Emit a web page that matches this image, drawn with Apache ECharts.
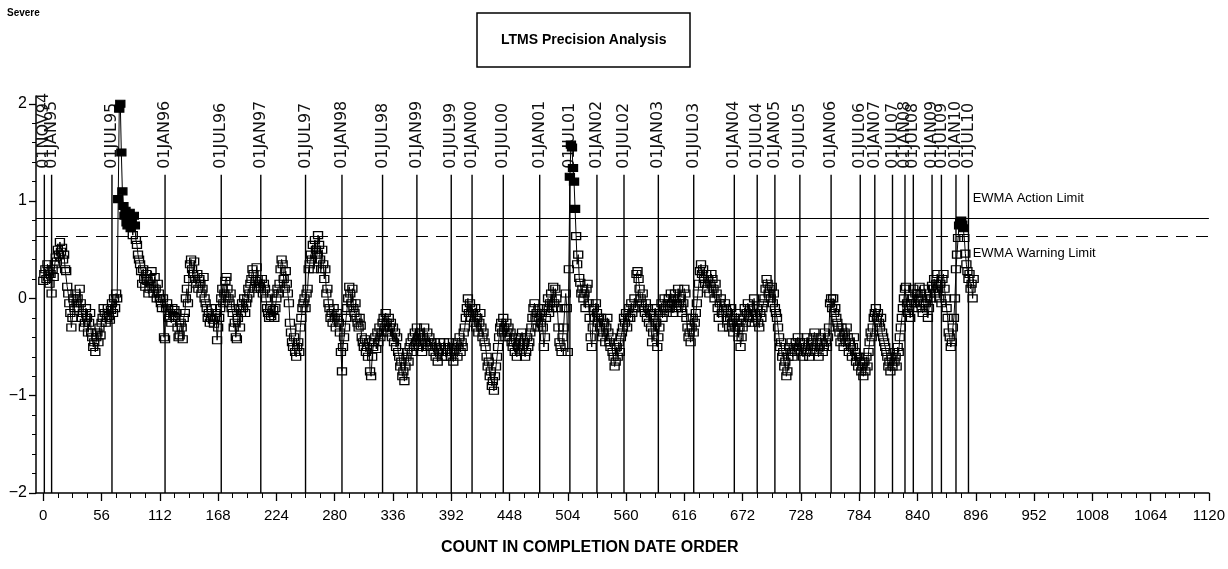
<!DOCTYPE html>
<html>
<head>
<meta charset="utf-8">
<script src="https://cdn.jsdelivr.net/npm/echarts@6/dist/echarts.min.js"></script>
<style>
html,body{margin:0;padding:0;background:#fff;}
#chart{width:1228px;height:569px;}
</style>
</head>
<body>
<div id="chart"></div>
<script>
// ---- data ----
const xTickValues = [0,56,112,168,224,280,336,392,448,504,560,616,672,728,784,840,896,952,1008,1064,1120];
const yTickValues = [-2,-1,0,1,2];

const refLabels = ['01NOV94','01JAN95','01JUL95','01JAN96','01JUL96','01JAN97','01JUL97','01JAN98','01JUL98',
  '01JAN99','01JUL99','01JAN00','01JUL00','01JAN01','01JUL01','01JAN02','01JUL02','01JAN03','01JUL03',
  '01JAN04','01JUL04','01JAN05','01JUL05','01JAN06','01JUL06','01JAN07','01JUL07','01JAN08','01JUL08',
  '01JAN09','01JUL09','01JAN10','01JUL10'];
const refCounts = [1,8,66,117,171,209,252,287,326,359,392,412,442,477,506,532,558,591,625,
  664,686,703,727,757,785,799,816,828,836,854,863,877,889];

const actionLimit = 0.82;
const warningLimit = 0.64;
const limitLabels = ['EWMA Action Limit','EWMA Warning Limit'];

// EWMA values in completion order (index = count)
const ewmaValues = [
  0.18,0.25,0.3,0.2,0.35,0.28,0.15,0.25,0.05,0.3,
  0.22,0.35,0.42,0.38,0.5,0.45,0.58,0.48,0.52,0.4,0.45,0.3,
  0.28,0.12,0.05,-0.05,-0.15,-0.3,-0.2,0.0,-0.1,0.05,-0.05,
  0.0,-0.1,0.1,-0.05,-0.2,-0.15,-0.3,-0.25,-0.1,-0.2,-0.35,-0.25,-0.15,
  -0.35,-0.4,-0.5,-0.45,-0.55,-0.4,-0.35,-0.45,-0.3,-0.38,
  -0.25,-0.2,-0.1,-0.15,-0.25,-0.2,-0.1,-0.18,-0.22,-0.12,-0.05,-0.15,0.0,-0.1,0.05,0.0,
  1.02,1.95,2.0,1.5,1.1,
  0.95,0.85,0.9,0.78,0.75,0.82,0.88,0.72,0.8,0.65,0.85,0.75,
  0.6,0.55,0.45,0.4,0.35,0.28,0.15,0.3,0.2,0.12,0.25,0.18,0.05,
  0.1,0.2,0.28,0.15,0.05,0.22,0.1,0.0,0.15,0.05,
  0.0,-0.05,-0.1,0.0,-0.4,-0.42,-0.1,-0.05,
  -0.1,-0.2,-0.15,-0.25,-0.1,-0.18,-0.12,-0.2,-0.15,-0.3,-0.4,-0.38,-0.25,-0.3,-0.42,-0.2,
  -0.15,0.0,0.1,-0.05,0.2,0.35,0.4,0.3,0.25,0.38,0.2,0.15,
  0.25,0.1,0.2,0.15,0.05,0.1,0.22,0.0,-0.05,
  -0.1,-0.2,-0.15,-0.25,-0.2,-0.1,-0.22,-0.26,-0.2,-0.15,-0.43,-0.3,-0.2,
  -0.1,0.0,0.1,-0.05,0.05,0.18,0.22,0.1,0.0,-0.05,0.05,-0.1,
  -0.15,-0.3,-0.25,-0.4,-0.42,-0.2,-0.1,-0.3,-0.15,-0.05,-0.1,0.0,-0.15,
  -0.05,0.0,0.1,0.05,0.15,0.2,0.3,0.25,0.1,0.18,0.32,0.2,0.12,0.15,0.1,0.2,0.05,0.15,0.1,
  0.0,-0.1,-0.15,-0.2,-0.1,-0.18,0.05,-0.12,-0.2,-0.1,0.0,0.1,0.05,
  0.15,0.3,0.4,0.35,0.2,0.1,0.28,0.15,0.05,-0.05,
  -0.25,-0.35,-0.45,-0.5,-0.4,-0.55,-0.6,-0.5,-0.45,-0.55,-0.3,-0.2,-0.1,
  -0.05,0.0,-0.1,0.05,0.1,0.3,
  0.35,0.45,0.4,0.55,0.3,0.6,0.5,0.45,0.65,0.55,0.4,0.3,0.5,0.35,0.2,0.3,
  0.05,0.1,-0.05,-0.1,-0.2,-0.15,-0.25,-0.1,-0.2,-0.3,-0.15,-0.2,-0.25,
  -0.35,-0.55,-0.75,-0.5,-0.4,-0.3,
  -0.2,-0.1,0.0,0.12,0.05,-0.05,0.1,-0.1,-0.15,-0.05,-0.2,-0.25,-0.3,-0.2,-0.28,
  -0.4,-0.45,-0.5,-0.42,-0.55,-0.5,-0.6,-0.45,-0.75,-0.8,-0.6,-0.5,-0.45,-0.4,-0.52,-0.35,-0.45,-0.3,-0.4,-0.35,
  -0.25,-0.2,-0.3,-0.15,-0.25,-0.35,-0.2,-0.3,-0.25,-0.4,-0.3,-0.45,-0.35,-0.5,-0.4,-0.55,-0.6,
  -0.7,-0.65,-0.8,-0.75,-0.85,-0.7,-0.6,-0.55,-0.65,-0.5,-0.45,-0.55,-0.4,-0.5,
  -0.35,-0.45,-0.3,-0.4,-0.5,-0.35,-0.45,-0.55,-0.4,-0.3,-0.45,-0.5,-0.35,-0.45,-0.4,-0.5,-0.45,
  -0.5,-0.55,-0.45,-0.6,-0.5,-0.65,-0.55,-0.45,-0.5,-0.6,-0.55,-0.45,-0.5,-0.6,-0.55,-0.5,
  -0.45,-0.55,-0.6,-0.5,-0.65,-0.55,-0.5,-0.45,-0.6,-0.5,-0.4,-0.55,-0.45,-0.5,-0.35,-0.3,
  -0.2,-0.1,0.0,-0.15,-0.05,-0.2,-0.1,
  -0.15,-0.25,-0.1,-0.3,-0.2,-0.35,-0.25,-0.15,-0.3,-0.4,-0.35,-0.45,-0.5,
  -0.6,-0.7,-0.65,-0.8,-0.75,-0.9,-0.85,-0.95,-0.8,-0.7,-0.6,-0.5,
  -0.4,-0.3,-0.25,-0.35,-0.2,-0.3,-0.4,-0.25,-0.35,-0.3,-0.4,-0.35,-0.45,
  -0.5,-0.45,-0.55,-0.4,-0.6,-0.5,-0.45,-0.55,-0.4,-0.35,-0.5,-0.45,-0.6,-0.55,-0.4,-0.5,-0.45,-0.35,-0.3,
  -0.2,-0.1,-0.05,-0.2,-0.15,-0.3,-0.2,-0.1,-0.25,-0.15,-0.3,-0.5,-0.4,-0.2,-0.1,0.0,-0.15,-0.05,0.05,-0.1,0.12,-0.05,0.1,0.0,-0.1,-0.3,
  -0.45,-0.5,-0.55,-0.4,-0.3,-0.1,0.05,-0.1,-0.55,0.3,
  1.25,1.58,1.55,1.34,1.2,0.92,0.64,0.35,0.45,0.21,0.16,0.05,0.1,
  0.0,0.05,-0.1,0.1,0.15,-0.05,-0.2,-0.4,-0.5,-0.3,-0.1,-0.2,-0.05,-0.15,-0.25,-0.2,
  -0.3,-0.2,-0.4,-0.35,-0.25,-0.45,-0.3,-0.2,-0.35,-0.45,-0.5,-0.4,
  -0.55,-0.6,-0.7,-0.65,-0.5,-0.6,-0.45,-0.55,-0.4,-0.35,
  -0.3,-0.2,-0.25,-0.15,-0.3,-0.2,-0.1,-0.2,-0.05,-0.15,-0.1,0.0,-0.1,
  0.25,0.28,0.2,0.1,0.0,-0.05,0.05,-0.1,
  -0.15,-0.05,-0.2,-0.1,-0.25,-0.15,-0.3,-0.45,-0.35,-0.2,-0.1,-0.25,-0.5,-0.4,-0.3,-0.15,-0.05,-0.2,-0.1,0.0,-0.1,-0.15,
  -0.05,0.0,-0.1,0.05,-0.05,-0.15,0.0,0.05,-0.1,-0.05,0.1,-0.05,0.0,-0.1,-0.15,-0.05,0.1,0.05,
  -0.2,-0.3,-0.4,-0.35,-0.45,-0.3,-0.2,-0.35,-0.25,-0.15,-0.05,0.05,
  0.15,0.28,0.35,0.25,0.3,0.2,0.15,0.25,0.1,0.2,0.05,0.15,0.25,0.2,0.1,0.0,0.15,0.05,-0.1,-0.2,-0.05,0.0,-0.15,-0.3,-0.1,-0.05,
  -0.1,-0.2,-0.15,-0.3,-0.2,-0.1,-0.25,-0.35,-0.2,-0.3,-0.15,-0.25,-0.4,-0.3,-0.5,-0.4,
  -0.3,-0.2,-0.1,-0.25,-0.15,-0.05,-0.2,-0.1,-0.15,-0.25,-0.1,0.0,-0.15,-0.2,-0.1,-0.25,-0.3,-0.15,-0.2,-0.1,-0.05,0.0,
  0.1,0.2,0.15,0.05,0.1,0.0,0.12,-0.05,0.05,-0.1,-0.15,
  -0.2,-0.3,-0.4,-0.5,-0.45,-0.6,-0.55,-0.7,-0.65,-0.8,-0.75,-0.6,-0.5,-0.55,-0.45,-0.6,-0.5,-0.55,-0.45,-0.5,-0.4,-0.5,
  -0.45,-0.55,-0.5,-0.6,-0.45,-0.5,-0.55,-0.4,-0.5,-0.6,-0.55,-0.45,-0.5,-0.4,-0.35,-0.5,-0.55,-0.45,-0.6,-0.5,-0.4,-0.45,-0.55,-0.5,-0.35,-0.45,-0.5,-0.4,-0.3,
  -0.05,0.0,-0.1,0.0,-0.15,-0.1,-0.2,-0.25,-0.3,
  -0.35,-0.45,-0.3,-0.4,-0.5,-0.35,-0.45,-0.3,-0.4,-0.55,-0.45,-0.5,-0.6,-0.5,-0.4,-0.55,-0.65,-0.6,-0.7,-0.6,
  -0.65,-0.75,-0.7,-0.8,-0.65,-0.75,-0.6,-0.7,-0.55,-0.45,-0.35,-0.4,-0.3,-0.2,-0.15,
  -0.1,-0.2,-0.15,-0.25,-0.3,-0.2,-0.35,-0.4,-0.45,-0.5,
  -0.55,-0.6,-0.7,-0.65,-0.75,-0.6,-0.7,-0.55,-0.65,-0.6,-0.7,-0.5,-0.55,-0.4,-0.3,
  -0.2,-0.1,0.0,0.1,0.12,-0.05,-0.15,-0.1,-0.2,-0.05,
  0.0,0.1,-0.05,0.05,-0.1,0.05,0.0,0.12,0.05,-0.1,-0.15,-0.05,0.1,-0.05,0.0,-0.2,-0.1,0.05,0.0,0.13,
  0.1,0.2,0.05,0.15,0.25,0.1,0.0,0.15,-0.05,0.2,0.25,0.1,0.0,-0.1,
  -0.2,-0.35,-0.4,-0.5,-0.45,-0.3,-0.2,0.0,
  0.3,0.45,0.62,0.75,0.78,0.8,0.76,0.72,0.62,0.46,0.35,0.28,0.2,0.25,0.1,0.15,0.0,0.2
];

// ---- chart ----
const X_MIN = -7, X_MAX = 1120, Y_MIN = -2, Y_MAX = 2.08;
const LINE_TOP = 1.27;
const FILL_ABOVE = 0.66;
const sans = '"Liberation Sans", Arial, sans-serif';

function stepValues(a, b, s) { const r = []; for (let v = a; v <= b + 1e-9; v += s) r.push(+v.toFixed(4)); return r; }
const xMinorTicks = stepValues(0, 1120, 14);
const yMinorTicks = stepValues(-2, 2, 0.2);

const seriesData = ewmaValues.map((v, i) => {
  const item = { value: [i, v] };
  if (v > FILL_ABOVE) item.itemStyle = { color: '#000' };
  return item;
});

const chart = echarts.init(document.getElementById('chart'), null, { renderer: 'canvas' });
chart.setOption({
  animation: false,
  backgroundColor: '#fff',
  title: [
    { text: 'Severe', left: 7, top: 8, padding: 0,
      textStyle: { fontFamily: sans, fontSize: 10, fontWeight: 'bold', color: '#000' } },
    { text: 'LTMS Precision Analysis', left: 477, top: 13, padding: [20, 24],
      borderColor: '#000', borderWidth: 1.5,
      textStyle: { fontFamily: sans, fontSize: 14, fontWeight: 'bold', color: '#000' } },
    { text: 'COUNT IN COMPLETION DATE ORDER', left: 441, top: 540, padding: 0,
      textStyle: { fontFamily: sans, fontSize: 16, fontWeight: 'bold', color: '#000' } }
  ],
  grid: { left: 36, right: 18, top: 96, bottom: 76, containLabel: false },
  xAxis: [
    { type: 'value', min: X_MIN, max: X_MAX, splitLine: { show: false },
      axisLine: { show: true, onZero: false, lineStyle: { color: '#000', width: 1.5 } },
      axisTick: { show: true, customValues: xTickValues, length: 8, lineStyle: { color: '#000', width: 1.3 } },
      axisLabel: { show: true, customValues: xTickValues, margin: 15, color: '#000', fontFamily: sans, fontSize: 15,
        formatter: v => String(v) } },
    { type: 'value', min: X_MIN, max: X_MAX, position: 'bottom', splitLine: { show: false },
      axisLine: { show: false, onZero: false },
      axisTick: { show: true, customValues: xMinorTicks, length: 5, lineStyle: { color: '#000', width: 1 } },
      axisLabel: { show: false } }
  ],
  yAxis: [
    { type: 'value', min: Y_MIN, max: Y_MAX, splitLine: { show: false },
      axisLine: { show: true, onZero: false, lineStyle: { color: '#000', width: 1.5 } },
      axisTick: { show: true, customValues: yTickValues, length: 7, lineStyle: { color: '#000', width: 1.3 } },
      axisLabel: { show: true, customValues: yTickValues, margin: 9, color: '#000', fontFamily: sans, fontSize: 16,
        formatter: v => (v < 0 ? '\u2212' + Math.abs(v) : String(v)) } },
    { type: 'value', min: Y_MIN, max: Y_MAX, position: 'left', splitLine: { show: false },
      axisLine: { show: false, onZero: false },
      axisTick: { show: true, customValues: yMinorTicks, length: 4, lineStyle: { color: '#000', width: 1 } },
      axisLabel: { show: false } }
  ],
  series: [
    {
      name: 'date markers', type: 'custom', coordinateSystem: 'cartesian2d', xAxisIndex: 0, yAxisIndex: 0,
      silent: true, clip: false, z: 1,
      data: refCounts.map(c => [c, LINE_TOP]),
      encode: { x: 0, y: 1 },
      renderItem: (params, api) => {
        const x = api.value(0);
        const p0 = api.coord([x, Y_MIN]);
        const p1 = api.coord([x, api.value(1)]);
        return { type: 'group', children: [
          { type: 'line', shape: { x1: p0[0], y1: p0[1], x2: p1[0], y2: p1[1] },
            style: { stroke: '#000', lineWidth: 1.4 } },
          { type: 'text', x: p1[0], y: p1[1] - 6, rotation: Math.PI / 2,
            style: { text: refLabels[params.dataIndex], fill: '#111', fontFamily: '"DejaVu Sans", sans-serif',
              fontSize: 16, align: 'left', verticalAlign: 'middle' } }
        ] };
      }
    },
    {
      name: 'limit labels', type: 'custom', coordinateSystem: 'cartesian2d', xAxisIndex: 0, yAxisIndex: 0,
      silent: true, clip: false, z: 1,
      data: [[893, actionLimit], [893, warningLimit]],
      encode: { x: 0, y: 1 },
      renderItem: (params, api) => {
        const p = api.coord([api.value(0), api.value(1)]);
        const dy = params.dataIndex === 0 ? -20 : 17;
        return { type: 'text', x: p[0], y: p[1] + dy,
          style: { text: limitLabels[params.dataIndex], fill: '#000', fontFamily: sans, fontSize: 13,
            align: 'left', verticalAlign: 'middle' } };
      }
    },
    {
      name: 'EWMA', type: 'line', xAxisIndex: 0, yAxisIndex: 0, z: 3,
      data: seriesData,
      showAllSymbol: true, symbol: 'rect', symbolSize: [9, 7],
      lineStyle: { color: '#000', width: 1 },
      itemStyle: { color: 'rgba(0,0,0,0)', borderColor: '#000', borderWidth: 1.2 },
      emphasis: { disabled: true },
      markLine: {
        silent: true, symbol: 'none', animation: false, label: { show: false },
        data: [
          [{ coord: [X_MIN, actionLimit], lineStyle: { color: '#000', width: 1.2, type: 'solid' } }, { coord: [X_MAX, actionLimit] }],
          [{ coord: [X_MIN, warningLimit], lineStyle: { color: '#000', width: 1.2, type: [12, 8] } }, { coord: [X_MAX, warningLimit] }]
        ]
      }
    }
  ]
});
</script>
</body>
</html>
